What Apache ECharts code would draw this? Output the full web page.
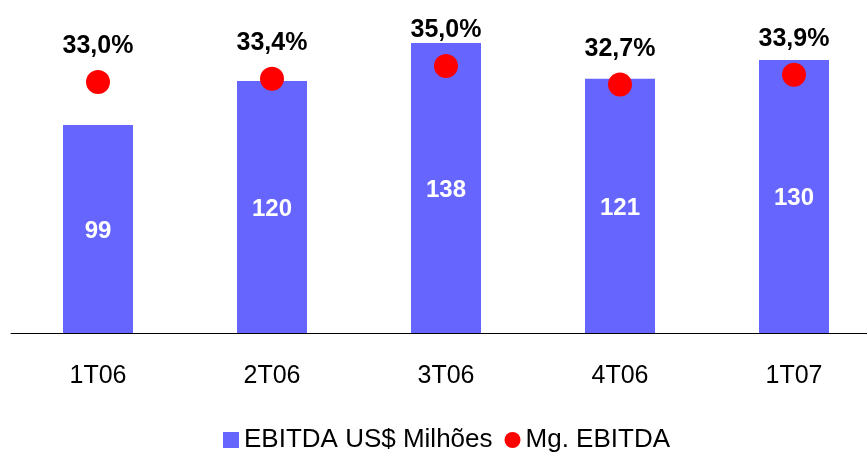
<!DOCTYPE html>
<html><head><meta charset="utf-8">
<script src="https://cdn.jsdelivr.net/npm/echarts@6/dist/echarts.min.js"></script>
<style>html,body{margin:0;padding:0;background:#fff;overflow:hidden}#c{width:881px;height:452px}</style>
</head><body><div id="c"></div>
<script>
const categories = ['1T06', '2T06', '3T06', '4T06', '1T07'];
const ebitda = [99, 120, 138, 121, 130];
const margin = [33.0, 33.4, 35.0, 32.7, 33.9];
const FONT = '"Liberation Sans", Arial, sans-serif';
const fmtPct = v => v.toFixed(1).replace('.', ',') + '%';

const chart = echarts.init(document.getElementById('c'));
chart.setOption({
  animation: false,
  textStyle: { fontFamily: FONT },
  grid: { left: 11, right: 0, top: 0, height: 333, containLabel: false },
  legend: {
    left: 218, top: 422, itemGap: 12, itemWidth: 16, itemHeight: 16,
    textStyle: { fontSize: 26, color: '#000', fontFamily: FONT },
    data: [{ name: 'EBITDA US$ Milhões', icon: 'rect' }, { name: 'Mg. EBITDA', icon: 'circle' }]
  },
  xAxis: {
    type: 'category', data: categories,
    axisLine: { lineStyle: { color: '#000', width: 1 } },
    axisTick: { show: false },
    axisLabel: { fontSize: 25, color: '#000', margin: 31, fontFamily: FONT }
  },
  yAxis: [
    { type: 'value', min: 0, max: 158.5, show: false, splitLine: { show: false } },
    { type: 'value', min: 1.625, max: 43.25, show: false, splitLine: { show: false } }
  ],
  series: [
    {
      name: 'EBITDA US$ Milhões', type: 'bar', data: ebitda, barWidth: 70,
      itemStyle: { color: '#6666FF' },
      label: { show: true, position: 'inside', offset: [0, 2], color: '#fff', fontWeight: 'bold', fontSize: 24, fontFamily: FONT }
    },
    {
      name: 'Mg. EBITDA', type: 'scatter', yAxisIndex: 1, data: margin,
      symbol: 'circle', symbolSize: 24, itemStyle: { color: '#FF0000', opacity: 1 },
      label: { show: true, position: 'top', distance: 11, color: '#000', fontWeight: 'bold', fontSize: 25, fontFamily: FONT,
        formatter: p => fmtPct(p.value) }
    }
  ]
});
</script></body></html>
